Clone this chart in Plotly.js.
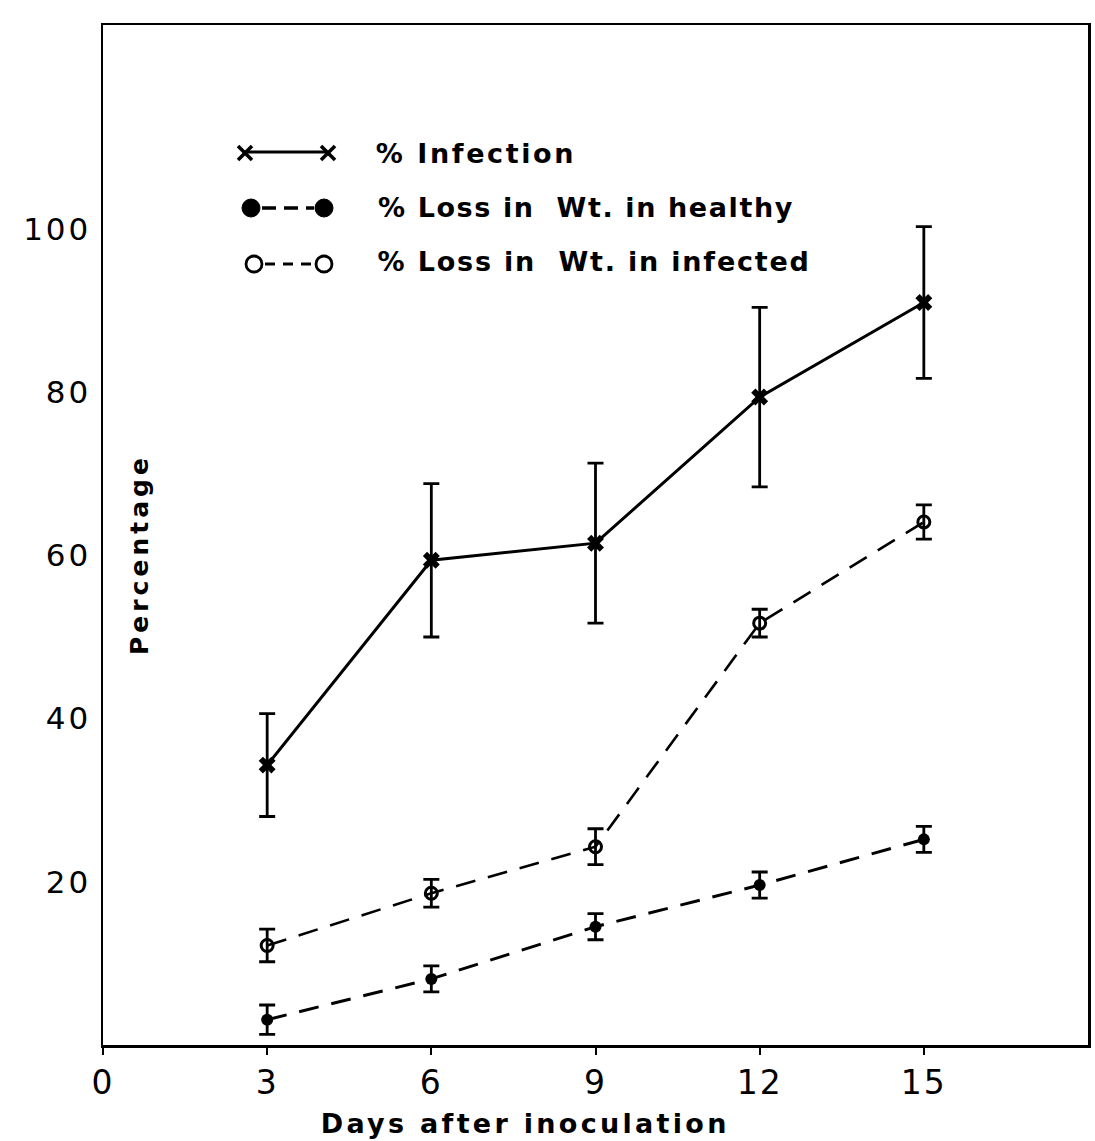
<!DOCTYPE html>
<html>
<head>
<meta charset="utf-8">
<script src="https://cdn.plot.ly/plotly-3.0.1.min.js"></script>
<style>html,body{margin:0;padding:0;background:#fff;}#chart{width:1095px;height:1141px;}</style>
</head>
<body>
<div id="chart"></div>
<script>
var days = [3, 6, 9, 12, 15];
var infection = [34.3, 59.4, 61.5, 79.4, 91.0];
var infectionErr = [6.3, 9.4, 9.8, 11.0, 9.3];
var lossHealthy = [3.1, 8.1, 14.5, 19.6, 25.2];
var lossHealthyErr = [1.8, 1.6, 1.6, 1.6, 1.6];
var lossInfected = [12.2, 18.6, 24.3, 51.7, 64.1];
var lossInfectedErr = [2.0, 1.7, 2.2, 1.7, 2.1];
var xTicks = [0, 3, 6, 9, 12, 15];
var yTicks = [20, 40, 60, 80, 100];
var legendLabels = ['% Infection', '% Loss in  Wt. in healthy', '% Loss in  Wt. in infected'];
var xTitle = 'Days after inoculation';
var yTitle = 'Percentage';

function errSpec(arr){
  return {type:'data', array: arr, visible:true, color:'#000', thickness:2.8, width:8};
}

var traces = [
  {x: days, y: infection, error_y: errSpec(infectionErr), mode:'lines+markers', name: legendLabels[0],
   line:{color:'#000', width:3}, marker:{symbol:'x', size:15, color:'#000'}},
  {x: days, y: lossHealthy, error_y: errSpec(lossHealthyErr), mode:'lines+markers', name: legendLabels[1],
   line:{color:'#000', width:3, dash:'20px,13px'}, marker:{symbol:'circle', size:12, color:'#000'}},
  {x: days, y: lossInfected, error_y: errSpec(lossInfectedErr), mode:'lines+markers', name: legendLabels[2],
   line:{color:'#000', width:2.6, dash:'20px,13px'}, marker:{symbol:'circle-open', size:12, color:'#000', line:{width:3, color:'#000'}}}
];

// legend drawn with shapes + annotations (paper coords)
var W = 985, H = 1020;
function px(x){ return (x-103)/W; }
function py(y){ return (1045-y)/H; }
function xMark(cx, cy, s){
  return [
    {type:'line', xref:'paper', yref:'paper', x0:px(cx-s), x1:px(cx+s), y0:py(cy-s), y1:py(cy+s), line:{color:'#000', width:3.5}},
    {type:'line', xref:'paper', yref:'paper', x0:px(cx-s), x1:px(cx+s), y0:py(cy+s), y1:py(cy-s), line:{color:'#000', width:3.5}}
  ];
}
function circ(cx, cy, r, filled){
  return {type:'circle', xref:'paper', yref:'paper', x0:px(cx-r), x1:px(cx+r), y0:py(cy+r), y1:py(cy-r),
          line:{color:'#000', width:filled?1:2.8}, fillcolor: filled?'#000':'rgba(0,0,0,0)'};
}
var shapes = [];
shapes = shapes.concat(xMark(245,153,7), xMark(328,153,7));
shapes.push({type:'line', xref:'paper', yref:'paper', x0:px(245), x1:px(328), y0:py(152), y1:py(152), line:{color:'#000', width:3}});
shapes.push(circ(251,208,9,true)); shapes.push(circ(324,208,9,true));
shapes.push({type:'line', xref:'paper', yref:'paper', x0:px(262), x1:px(314), y0:py(208), y1:py(208), line:{color:'#000', width:3.5, dash:'14px,8px'}});
shapes.push(circ(254,264,8,false)); shapes.push(circ(324,264,8,false));
shapes.push({type:'line', xref:'paper', yref:'paper', x0:px(265), x1:px(315), y0:py(264), y1:py(264), line:{color:'#000', width:3, dash:'10px,8px'}});

var legFont = {family:'DejaVu Sans', size:27, color:'#000', weight:'bold'};
var annotations = [
  {xref:'paper', yref:'paper', x:px(476), y:py(153), xanchor:'center', yanchor:'middle', text:legendLabels[0], showarrow:false, font:legFont},
  {xref:'paper', yref:'paper', x:px(586), y:py(207), xanchor:'center', yanchor:'middle', text:legendLabels[1], showarrow:false, font:legFont},
  {xref:'paper', yref:'paper', x:px(594), y:py(262), xanchor:'center', yanchor:'middle', text:legendLabels[2], showarrow:false, font:legFont},
  {xref:'paper', yref:'paper', x:px(140), y:py(555), xanchor:'center', yanchor:'middle', textangle:-90, text:yTitle, showarrow:false,
   font:{family:'DejaVu Sans', size:25, color:'#000', weight:'bold'}},
  {xref:'paper', yref:'paper', x:px(525), y:py(1123), xanchor:'center', yanchor:'middle', text:xTitle, showarrow:false,
   font:{family:'DejaVu Sans', size:27, color:'#000', weight:'bold'}}
];

var layout = {
  width:1095, height:1141,
  margin:{l:103, r:7, t:25, b:96, pad:0},
  paper_bgcolor:'#fff', plot_bgcolor:'#fff',
  showlegend:false,
  xaxis:{range:[0,18], tickvals:xTicks, ticktext:xTicks.map(String), showgrid:false, zeroline:false,
         showline:true, mirror:true, linecolor:'#000', linewidth:2.5, ticks:'outside', ticklen:7, tickwidth:2, tickcolor:'#000',
         tickfont:{family:'DejaVu Sans', size:33, color:'#000'}, ticklabelstandoff:0, fixedrange:true},
  yaxis:{range:[0,125], tickvals:yTicks, ticktext:yTicks.map(String), showgrid:false, zeroline:false,
         showline:true, mirror:true, linecolor:'#000', linewidth:2.5, ticks:'',
         tickfont:{family:'DejaVu Sans', size:31, color:'#000'}, ticklabelstandoff:3, fixedrange:true},
  shapes:shapes,
  annotations:annotations
};

Plotly.newPlot('chart', traces, layout, {displayModeBar:false, staticPlot:true}).then(function(){
  var spacing = {};
  spacing[legendLabels[0]] = '2.6px';
  spacing[legendLabels[1]] = '1.6px';
  spacing[legendLabels[2]] = '1.8px';
  spacing[xTitle] = '3.3px';
  spacing[yTitle] = '4px';
  document.querySelectorAll('.annotation-text').forEach(function(t){
    var s = spacing[t.textContent];
    if (s) t.style.letterSpacing = s;
  });
  document.querySelectorAll('.ytick text').forEach(function(t){ t.style.letterSpacing = '3px'; });
  document.querySelectorAll('.xtick text').forEach(function(t){ t.style.letterSpacing = '2px'; });
});
</script>
</body>
</html>
